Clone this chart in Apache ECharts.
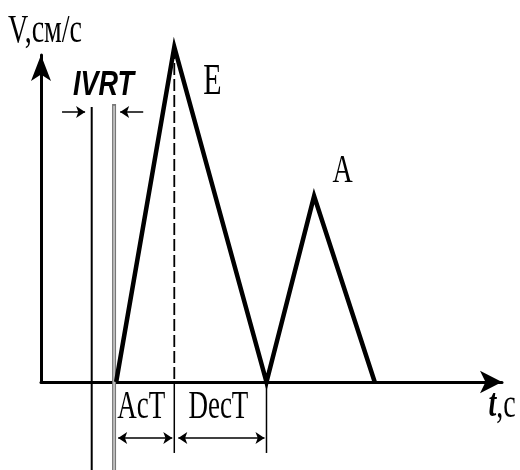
<!DOCTYPE html>
<html>
<head>
<meta charset="utf-8">
<script src="https://cdn.jsdelivr.net/npm/echarts@6/dist/echarts.min.js"></script>
<style>
  html, body { margin: 0; background: #fff; }
  #main { width: 520px; height: 470px; }
</style>
</head>
<body>
<div id="main"></div>
<script>
// mitral inflow profile (time units, velocity units)
const flowT = [7.5, 13.3, 22.5, 27.25, 33.3];
const flowV = [0, 106.7, 0, 59.2, 0];

// IVRT boundaries
const ivrtT = [5.06, 7.29];
const ivrtTop = [87.6, 88.5];
const ivrtBottom = -28;

// E peak time and end of deceleration
const markT = [13.3, 22.5];
const markBottom = -22.6;

// arrows: [fromT, toT, level]
const ivrtArrows = [[2.1, 4.4, 86], [10.2, 7.9, 86]];
const spanArrows = [[7.7, 13.1, -17.8], [13.7, 22.3, -17.8]];

const chartDom = document.getElementById('main');
const myChart = echarts.init(chartDom);

function vline(x, y0, y1, lineStyle, z) {
  return {
    type: 'line',
    data: [[x, y0], [x, y1]],
    symbol: 'none',
    clip: false,
    silent: true,
    z: z || 2,
    lineStyle: lineStyle
  };
}

const series = [];

// IVRT lines
series.push(vline(ivrtT[0], ivrtTop[0], ivrtBottom, { color: '#000', width: 2 }));
series.push(vline(ivrtT[1], ivrtTop[1], ivrtBottom, { color: '#777', width: 4 }, 3));
series.push(vline(ivrtT[1], ivrtTop[1] - 0.5, ivrtBottom, { color: '#d0d0d0', width: 1.5 }, 4));

// dashed line from E peak, then ticks below axis
series.push(vline(markT[0], flowV[1], 0, { color: '#000', width: 1.8, type: [12, 4] }));
series.push(vline(markT[0], 0, markBottom, { color: '#000', width: 1.5 }));
series.push(vline(markT[1], 0, markBottom, { color: '#000', width: 1.5 }));

// E and A waves
series.push({
  type: 'line',
  data: flowT.map((t, i) => [t, flowV[i]]),
  symbol: 'none',
  clip: false,
  z: 5,
  lineStyle: { color: '#000', width: 4.5, join: 'miter', miterLimit: 20 }
});

// arrows
series.push({
  type: 'lines',
  coordinateSystem: 'cartesian2d',
  clip: false,
  symbol: ['none', 'arrow'],
  symbolSize: 9,
  lineStyle: { color: '#000', width: 1.5, opacity: 1, curveness: 0 },
  data: ivrtArrows.map(a => ({ coords: [[a[0], a[2]], [a[1], a[2]]] }))
});
series.push({
  type: 'lines',
  coordinateSystem: 'cartesian2d',
  clip: false,
  symbol: ['arrow', 'arrow'],
  symbolSize: 9,
  lineStyle: { color: '#000', width: 1.5, opacity: 1, curveness: 0 },
  data: spanArrows.map(a => ({ coords: [[a[0], a[2]], [a[1], a[2]]] }))
});

myChart.setOption({
  animation: false,
  grid: { left: 41, right: 18, top: 55, bottom: 88 },
  xAxis: {
    type: 'value',
    min: 0,
    max: 46,
    axisLine: {
      onZero: false,
      symbol: ['none', 'arrow'],
      symbolSize: [17, 22],
      lineStyle: { color: '#000', width: 3 }
    },
    axisTick: { show: false },
    axisLabel: { show: false },
    splitLine: { show: false }
  },
  yAxis: {
    type: 'value',
    min: 0,
    max: 104.14,
    axisLine: {
      show: true,
      onZero: false,
      symbol: ['none', 'arrow'],
      symbolSize: [15, 26],
      lineStyle: { color: '#000', width: 3 }
    },
    axisTick: { show: false },
    axisLabel: { show: false },
    splitLine: { show: false }
  },
  series: series
});

// text labels, anchored in data coordinates
const serif = 'Liberation Serif, Times New Roman, serif';
const labels = [
  { text: 'V,см/с', at: [0.4, 111.8], size: 28, family: serif },
  { text: 'IVRT', at: [6.24, 94.6], size: 27, family: 'Liberation Sans, Arial, sans-serif', weight: 'bold', style: 'italic', sy: 1.3 },
  { text: 'E', at: [17.1, 95.2], size: 30, family: serif },
  { text: 'A', at: [30.1, 67.2], size: 28, family: serif },
  { text: 'AcT', at: [10.0, -8.1], size: 27, family: serif },
  { text: 'DecT', at: [17.7, -8.1], size: 27, family: serif },
  { text: '{b|t},с', at: [46.0, -7.6], size: 28, family: serif }
];

myChart.setOption({
  graphic: labels.map(function (l) {
    const p = myChart.convertToPixel({ gridIndex: 0 }, l.at);
    return {
      type: 'text',
      x: p[0],
      y: p[1],
      scaleY: l.sy || 1.45,
      z: 10,
      style: {
        text: l.text,
        fill: '#000',
        fontSize: l.size,
        fontFamily: l.family,
        fontWeight: l.weight || 'normal',
        fontStyle: l.style || 'normal',
        align: 'center',
        verticalAlign: 'middle',
        rich: {
          b: { fontSize: l.size, fontFamily: l.family, fontWeight: 'bold', fontStyle: 'italic', fill: '#000' }
        }
      }
    };
  })
});
</script>
</body>
</html>
